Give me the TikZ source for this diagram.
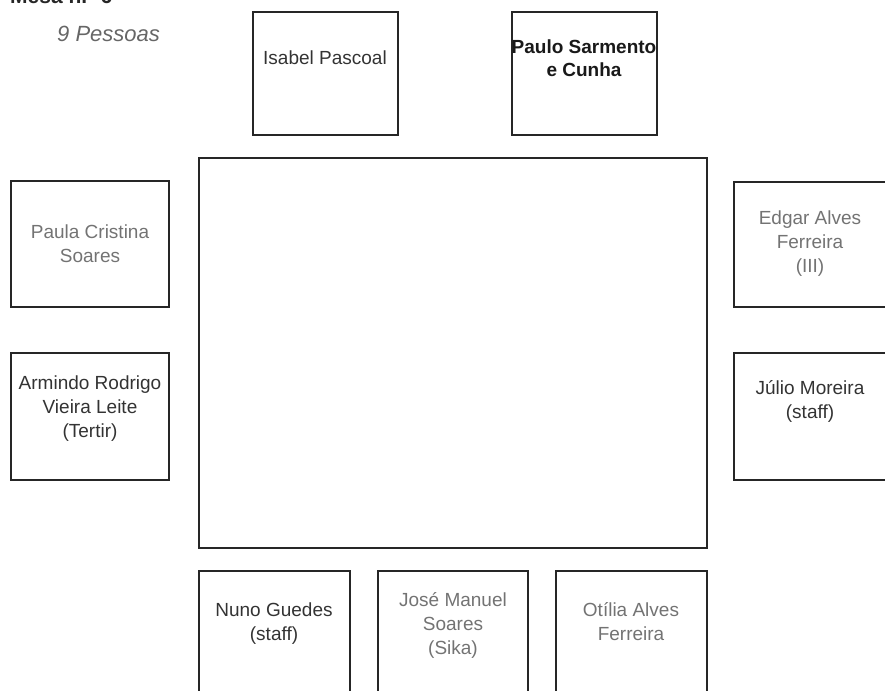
\documentclass[tikz,border=0pt]{standalone}
\usepackage{fontspec}
\setmainfont{Liberation Sans}
\begin{document}
\begin{tikzpicture}[x=1pt,y=-1pt,
  seat/.style={draw=black!85, line width=1.4pt, inner sep=0pt, minimum width=#1},
  seat/.default=150pt,
  tbl/.style={draw=black!85, line width=2pt, inner sep=0pt},
  txt/.style={align=center, font=\fontsize{19}{24}\selectfont, text=black!80, inner sep=0pt},
  gtxt/.style={txt, text=black!55},
  every node/.append style={anchor=center}]
\useasboundingbox (0,0) rectangle (885,690);
\clip (0,0) rectangle (885,690);
% title (cut off at top, as in the reference)
\node[anchor=base west, font=\bfseries\fontsize{21}{24}\selectfont, text=black!85, inner sep=0pt] (title) at (10,4) {Mesa n.º 6};
\node[anchor=west, font=\itshape\fontsize{22}{24}\selectfont, text=black!60, inner sep=0pt] (count) at (57,34) {9 Pessoas};
% table
\node[tbl, minimum width=508pt, minimum height=390pt] (table) at (453,353) {};
% seats
\node[seat=145pt, minimum height=123pt] (isabel) at (325.5,73.5) {};
\node[seat=145pt, minimum height=123pt] (paulo) at (584.5,73.5) {};
\node[seat=158pt, minimum height=126pt] (paula) at (90,244) {};
\node[seat=158pt, minimum height=127pt] (armindo) at (90,416.5) {};
\node[seat=152pt, minimum height=125pt] (edgar) at (810,244.5) {};
\node[seat=152pt, minimum height=127pt] (julio) at (810,416.5) {};
\node[seat=151pt, minimum height=130pt] (nuno) at (274.5,636) {};
\node[seat=150pt, minimum height=130pt] (jose) at (453,636) {};
\node[seat=151pt, minimum height=130pt] (otilia) at (631.5,636) {};
% names
\node[txt] (tisabel) at (325,58) {Isabel Pascoal};
\node[txt, font=\bfseries\fontsize{19}{23}\selectfont, text=black!90] (tpaulo) at (584,58) {Paulo Sarmento\\e Cunha};
\node[gtxt] (tpaula) at (90,244) {Paula Cristina\\Soares};
\node[txt] (tarmindo) at (90,409) {Armindo Rodrigo\\Vieira Leite\\(Tertir)};
\node[gtxt] (tedgar) at (810,244) {Edgar Alves\\Ferreira\\(III)};
\node[txt] (tjulio) at (810,401) {Júlio Moreira\\(staff)};
\node[txt] (tnuno) at (274,624) {Nuno Guedes\\(staff)};
\node[gtxt] (tjose) at (453,625) {José Manuel\\Soares\\(Sika)};
\node[gtxt] (totilia) at (631,622) {Otília Alves\\Ferreira};
\end{tikzpicture}
\end{document}
